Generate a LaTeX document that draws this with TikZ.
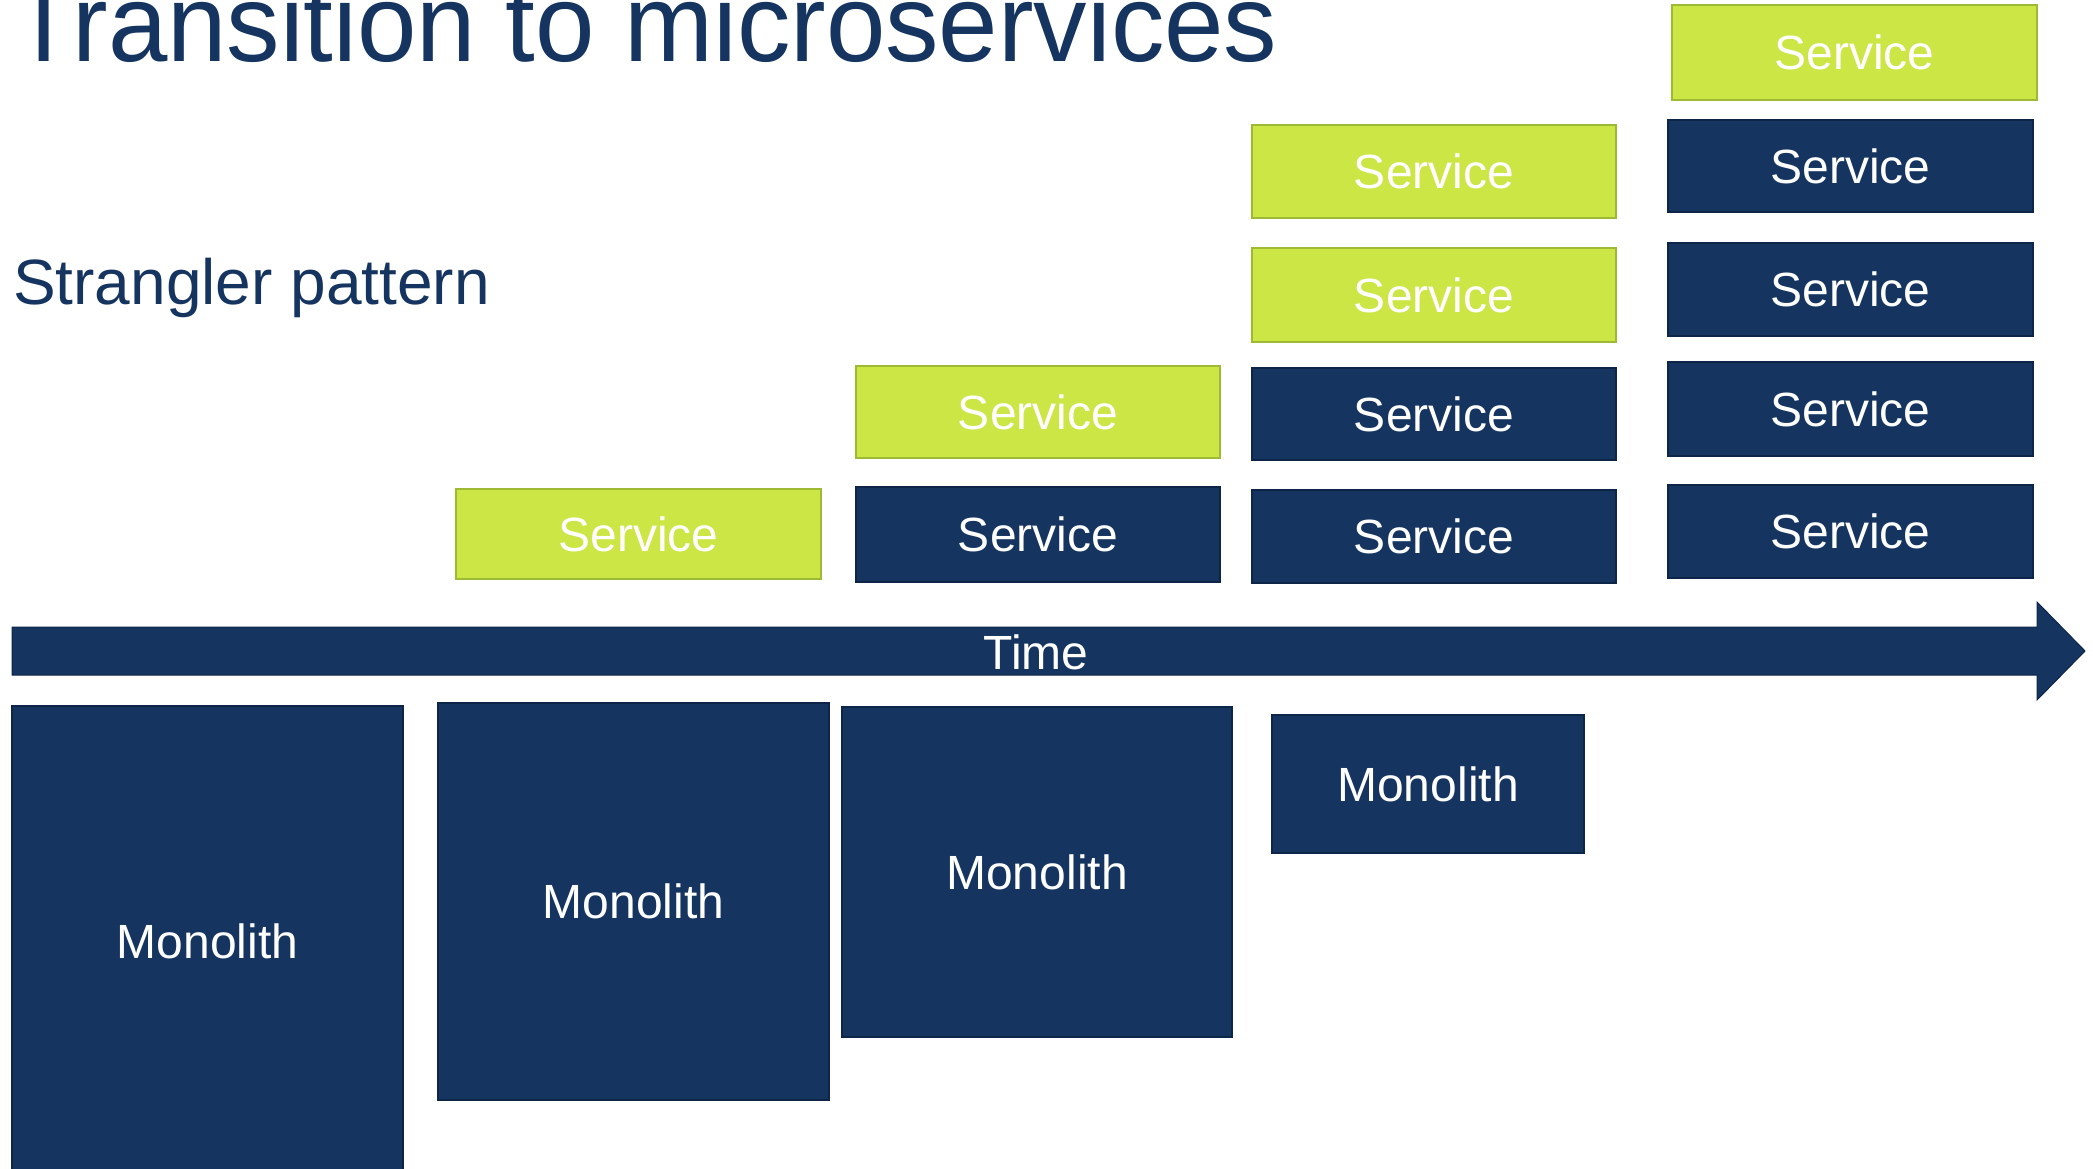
\documentclass[tikz,border=0pt]{standalone}
\usepackage{fontspec}
\setmainfont{Liberation Sans}
\definecolor{navy}{RGB}{21,53,96}
\definecolor{navyedge}{RGB}{13,38,72}
\definecolor{lime}{RGB}{204,230,70}
\definecolor{limeedge}{RGB}{158,186,52}

\begin{document}
\begin{tikzpicture}[x=1pt,y=-1pt,
  sz/.style 2 args={minimum width=#1pt, minimum height=#2pt},
  blk/.style={draw=navyedge, fill=navy, line width=1.5pt, text=white,
    inner sep=0pt, font=\fontsize{48}{56}\selectfont},
  newsvc/.style={draw=limeedge, fill=lime, line width=2pt, text=white,
    inner sep=0pt, font=\fontsize{48}{56}\selectfont},
  heading/.style={text=navy, inner sep=0pt, anchor=base west},
]
\useasboundingbox (0,0) rectangle (2093,1169);
\fill[white] (0,0) rectangle (2093,1169);

% headings
\node[heading, font=\fontsize{110}{124}\selectfont] (title) at (11,62)
  {\scalebox{0.971}[1]{Transition to microservices}};
\node[heading, font=\fontsize{64}{74}\selectfont] (sub) at (13,304) {Strangler pattern};

% time axis
\fill[navy, draw=navyedge, line width=1pt]
  (12,627) -- (2037,627) -- (2037,602) -- (2085,651) -- (2037,700) -- (2037,675) -- (12,675) -- cycle;
\node[text=white, inner sep=0pt, font=\fontsize{48}{56}\selectfont] (time) at (1036,652) {Time};

% monoliths shrinking over time
\node[blk, sz={391}{470}] (m1) at (207.5,941) {Monolith};
\node[blk, sz={391}{397}] (m2) at (633.5,901.5) {Monolith};
\node[blk, sz={390}{330}] (m3) at (1037,872) {Monolith};
\node[blk, sz={312}{138}] (m4) at (1428,784) {Monolith};

% stage 1
\node[newsvc, sz={365}{90}] (s1a) at (638.5,534) {Service};

% stage 2
\node[newsvc, sz={364}{92}] (s2b) at (1038,412) {Service};
\node[blk, sz={364}{95}] (s2a) at (1038,534.5) {Service};

% stage 3
\node[newsvc, sz={364}{93}] (s3d) at (1434,171.5) {Service};
\node[newsvc, sz={364}{94}] (s3c) at (1434,295) {Service};
\node[blk, sz={364}{92}] (s3b) at (1434,414) {Service};
\node[blk, sz={364}{93}] (s3a) at (1434,536.5) {Service};

% stage 4
\node[newsvc, sz={365}{95}] (s4e) at (1854.5,52.5) {Service};
\node[blk, sz={365}{92}] (s4d) at (1850.5,166) {Service};
\node[blk, sz={365}{93}] (s4c) at (1850.5,289.5) {Service};
\node[blk, sz={365}{94}] (s4b) at (1850.5,409) {Service};
\node[blk, sz={365}{93}] (s4a) at (1850.5,531.5) {Service};
\end{tikzpicture}
\end{document}
